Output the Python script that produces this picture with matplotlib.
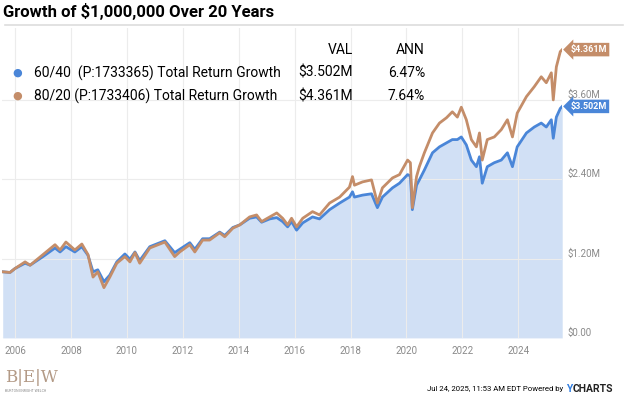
import numpy as np
import matplotlib.pyplot as plt

# decimal years
years = [2005.56, 2005.82, 2006.00, 2006.36, 2006.54, 2007.00, 2007.43, 2007.61, 2007.82,
         2008.14, 2008.39, 2008.61, 2008.79, 2008.96, 2009.18, 2009.39, 2009.64, 2009.93,
         2010.11, 2010.29, 2010.46, 2010.82, 2011.36, 2011.71, 2011.89, 2012.25, 2012.43,
         2012.71, 2012.96, 2013.32, 2013.50, 2013.79, 2014.04, 2014.39, 2014.64, 2014.82,
         2015.11, 2015.36, 2015.57, 2015.75, 2015.89, 2016.07, 2016.29, 2016.64, 2016.89,
         2017.25, 2017.61, 2017.96, 2018.07, 2018.14, 2018.43, 2018.75, 2018.96, 2019.14,
         2019.50, 2019.75, 2020.04, 2020.14, 2020.21, 2020.36, 2020.46, 2020.64, 2020.93,
         2021.18, 2021.43, 2021.64, 2021.82, 2021.96, 2022.14, 2022.32, 2022.50, 2022.61,
         2022.71, 2022.89, 2023.14, 2023.39, 2023.61, 2023.79, 2023.96, 2024.29, 2024.57,
         2024.82, 2025.00, 2025.18, 2025.25, 2025.36, 2025.50, 2025.57]

# values in $M
growth_80_20 = [1.00, 0.99, 1.05, 1.15, 1.10, 1.26, 1.41, 1.33, 1.45,
                1.33, 1.42, 1.26, 0.92, 1.00, 0.76, 0.92, 1.13, 1.23,
                1.15, 1.29, 1.13, 1.36, 1.45, 1.23, 1.30, 1.41, 1.30,
                1.48, 1.48, 1.59, 1.53, 1.66, 1.71, 1.83, 1.86, 1.76,
                1.83, 1.89, 1.81, 1.71, 1.81, 1.68, 1.81, 1.91, 1.86,
                2.04, 2.13, 2.28, 2.44, 2.31, 2.36, 2.39, 2.04, 2.27,
                2.42, 2.47, 2.69, 2.65, 1.97, 2.44, 2.59, 2.80, 3.10,
                3.25, 3.33, 3.42, 3.34, 3.49, 3.30, 3.00, 2.89, 3.10,
                2.69, 3.00, 3.04, 3.15, 3.30, 3.04, 3.40, 3.65, 3.80,
                3.95, 3.86, 4.01, 3.60, 4.10, 4.33, 4.361]

growth_60_40 = [1.00, 0.99, 1.05, 1.13, 1.10, 1.23, 1.36, 1.30, 1.38,
                1.30, 1.38, 1.25, 1.00, 1.03, 0.85, 0.95, 1.15, 1.27,
                1.19, 1.30, 1.17, 1.38, 1.47, 1.29, 1.34, 1.44, 1.34,
                1.50, 1.50, 1.60, 1.55, 1.67, 1.71, 1.81, 1.83, 1.75,
                1.80, 1.82, 1.76, 1.68, 1.76, 1.63, 1.74, 1.83, 1.80,
                1.94, 2.04, 2.13, 2.21, 2.13, 2.16, 2.18, 1.97, 2.13,
                2.27, 2.34, 2.47, 2.45, 1.94, 2.31, 2.39, 2.54, 2.80,
                2.89, 2.95, 3.00, 3.00, 3.04, 2.92, 2.69, 2.59, 2.74,
                2.34, 2.59, 2.65, 2.69, 2.80, 2.59, 2.89, 3.10, 3.19,
                3.25, 3.19, 3.30, 3.02, 3.34, 3.47, 3.502]

series_names = ["60/40  (P:1733365) Total Return Growth",
                "80/20 (P:1733406) Total Return Growth"]
series_vals = ["$3.502M", "$4.361M"]
series_ann = ["6.47%", "7.64%"]

x_ticks = [2006, 2008, 2010, 2012, 2014, 2016, 2018, 2020, 2022, 2024]
y_ticks = [0, 1.2, 2.4, 3.6]
y_labels = ["$0.00", "$1.20M", "$2.40M", "$3.60M"]

BLUE = "#4a86d8"
BROWN = "#c48d69"
GRID = "#ececec"
TICK = "#8a8a8a"

plt.rcParams['font.family'] = ['Roboto', 'DejaVu Sans']

fig = plt.figure(figsize=(6.24, 3.98), dpi=100)
ax = fig.add_axes([0.003, 0.151, 0.898, 0.779])

ax.fill_between(years, growth_60_40, 0, color=BLUE, alpha=0.25, linewidth=0, zorder=1)
ax.plot(years, growth_60_40, color=BLUE, lw=2.0, zorder=2, solid_joinstyle='round')
ax.plot(years, growth_80_20, color=BROWN, lw=2.0, zorder=3, solid_joinstyle='round')

ax.set_xlim(2005.53, 2025.57)
ax.set_ylim(0, 4.69)
ax.set_xticks(x_ticks)
ax.set_xticklabels([str(y) for y in x_ticks], fontsize=7, color=TICK)
ax.set_yticks(y_ticks)
ax.yaxis.tick_right()
ax.set_yticklabels(y_labels, fontsize=7, color=TICK)
for lbl in ax.get_yticklabels():
    lbl.set_va('bottom')
ax.tick_params(axis='both', length=0)
ax.tick_params(axis='y', pad=4)
ax.tick_params(axis='x', pad=6)
ax.grid(True, color=GRID, lw=0.8, zorder=0)
for s in ax.spines.values():
    s.set_visible(False)

# end-value tags
ax.annotate(series_vals[1], xy=(years[-1], growth_80_20[-1]), xytext=(6, 0),
            textcoords='offset points', va='center', ha='left', fontsize=6.5,
            fontweight='bold', color='white',
            bbox=dict(boxstyle='larrow,pad=0.25', fc=BROWN, ec='none'),
            annotation_clip=False)
ax.annotate(series_vals[0], xy=(years[-1], growth_60_40[-1]), xytext=(6, 0),
            textcoords='offset points', va='center', ha='left', fontsize=6.5,
            fontweight='bold', color='white',
            bbox=dict(boxstyle='larrow,pad=0.25', fc=BLUE, ec='none'),
            annotation_clip=False)

# title + rule
fig.text(0.005, 0.97, "Growth of $1,000,000 Over 20 Years", fontsize=12,
         fontweight='bold', va='center', ha='left')
fig.add_artist(plt.Line2D([0.008, 0.998], [0.937, 0.937], color="#dddddd", lw=1.2))

# legend table
def fy(py):
    return 1 - py / 398

fig.text(353 / 624, fy(50), "VAL", fontsize=10, ha='right', va='center')
fig.text(425 / 624, fy(50), "ANN", fontsize=10, ha='right', va='center')
for i, (name, val, ann, col) in enumerate(zip(series_names, series_vals, series_ann, [BLUE, BROWN])):
    yy = fy(73 + 23 * i)
    fig.text(17 / 624, yy, "\u25cf", color=col, fontsize=8, ha='center', va='center')
    fig.text(34 / 624, yy, name, fontsize=10, ha='left', va='center')
    fig.text(353 / 624, yy, val, fontsize=10, ha='right', va='center')
    fig.text(425 / 624, yy, ann, fontsize=10, ha='right', va='center')

# footer
fig.text(5 / 624, fy(378), "B|E|W", fontsize=12, family='DejaVu Serif', color="#b39a86",
         ha='left', va='center')
fig.text(5 / 624, fy(391), "BURTON ENRIGHT WELCH", fontsize=2.5, color="#888888",
         ha='left', va='center')
fig.text(563 / 624, fy(389), "Jul 24, 2025, 11:53 AM EDT Powered by", fontsize=5.6,
         ha='right', va='center')
fig.text(566 / 624, fy(389), "Y", fontsize=7.5, color="#2f7de1", fontweight='bold',
         ha='left', va='center')
fig.text(573 / 624, fy(389), "CHARTS", fontsize=7.5, color="#222222", fontweight='bold',
         ha='left', va='center')

fig.savefig("out.png", dpi=100)
